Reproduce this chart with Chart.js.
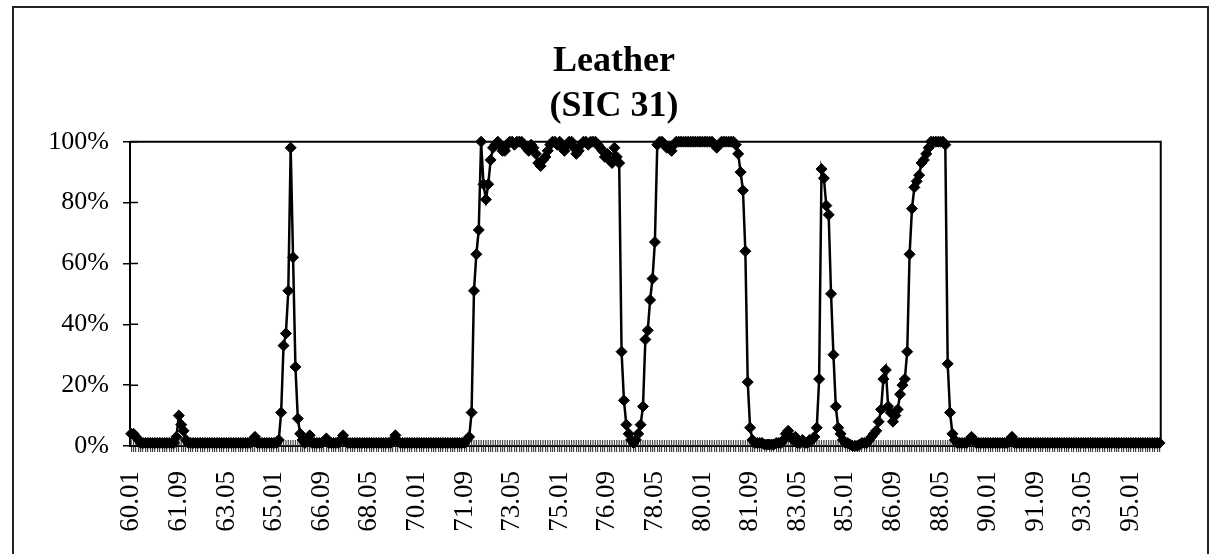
<!DOCTYPE html>
<html>
<head>
<meta charset="utf-8">
<title>Leather (SIC 31)</title>
<script src="https://cdn.jsdelivr.net/npm/chart.js@4.4.0/dist/chart.umd.min.js"></script>
<style>
  body { margin: 0; background: #fff; }
  #wrap { position: relative; width: 1211px; height: 554px; overflow: hidden; }
  #frame {
    position: absolute; left: 12px; top: 6px; width: 1197px; height: 600px;
    border: 2px solid #222; box-sizing: border-box;
  }
  #chart { position: absolute; left: 0; top: 0; }
</style>
</head>
<body>
<div id="wrap">
  <div id="frame"></div>
  <canvas id="chart" width="1211" height="554"></canvas>
</div>
<script>
// 🔹 DATA
const titleLines = ["Leather", "(SIC 31)"];

// monthly share in %, one row per year (60.01 ... 96.01)
const share = [
  4, 4, 3, 2, 1, 1, 1, 1, 1, 1, 1, 1,            // 60
  1, 1, 1, 1, 1, 1, 1, 3, 10, 7, 5, 2,           // 61
  1, 1, 1, 1, 1, 1, 1, 1, 1, 1, 1, 1,            // 62
  1, 1, 1, 1, 1, 1, 1, 1, 1, 1, 1, 1,            // 63
  1, 1, 1, 2, 3, 1, 1, 1, 1, 1, 1, 1,            // 64
  1, 1, 2, 11, 33, 37, 51, 98, 62, 26, 9, 4,     // 65
  2, 1, 2, 3.5, 1, 1, 1, 1, 1, 1.5, 2.5, 1,      // 66
  1, 1, 1, 1, 2, 3.5, 1.5, 1, 1, 1, 1, 1,        // 67
  1, 1, 1, 1, 1, 1, 1, 1, 1, 1, 1, 1,            // 68
  1, 1, 2, 3.5, 1.5, 1, 1, 1, 1, 1, 1, 1,        // 69
  1, 1, 1, 1, 1, 1, 1, 1, 1, 1, 1, 1,            // 70
  1, 1, 1, 1, 1, 1, 1, 1, 1, 2, 3, 11,           // 71
  51, 63, 71, 100, 86, 81, 86, 94, 98, 99, 100, 99,   // 72
  97, 97, 99, 100, 100, 99, 100, 100, 100, 99, 98, 97, // 73
  99, 98, 96, 93, 92, 94, 95, 97, 99, 100, 100, 99,   // 74
  100, 98, 97, 99, 100, 100, 98, 96, 97, 99, 100, 100, // 75
  99, 100, 100, 100, 99, 98, 97, 95, 96, 94, 93, 98,  // 76
  95, 93, 31, 15, 7, 4, 2, 1, 2, 4, 7, 13,       // 77
  35, 38, 48, 55, 67, 99, 100, 100, 99, 98, 98, 97,   // 78
  99, 100, 100, 100, 100, 100, 100, 100, 100, 100, 100, 100, // 79
  100, 100, 100, 100, 100, 99, 98, 99, 100, 100, 100, 100,  // 80
  100, 100, 99, 96, 90, 84, 64, 21, 6, 2, 1, 1,  // 81
  1, 1, 0.5, 0.5, 0.5, 0.5, 0.5, 1, 1, 1, 2, 4,  // 82
  5, 3, 2, 3, 1, 1, 2, 1, 1, 2, 2, 3,            // 83
  6, 22, 91, 88, 79, 76, 50, 30, 13, 6, 4, 2,    // 84
  1, 1, 0.5, 0, 0, 0, 0.5, 1, 1, 1, 2, 3,        // 85
  4, 5, 8, 12, 22, 25, 13, 11, 8, 10, 12, 17,    // 86
  20, 22, 31, 63, 78, 85, 87, 89, 93, 94, 96, 98, // 87
  100, 100, 100, 100, 100, 100, 99, 27, 11, 4, 2, 1, // 88
  1, 1, 1, 1, 2, 3, 2, 1, 1, 1, 1, 1,            // 89
  1, 1, 1, 1, 1, 1, 1, 1, 1, 2, 3, 1,            // 90
  1, 1, 1, 1, 1, 1, 1, 1, 1, 1, 1, 1,            // 91
  1, 1, 1, 1, 1, 1, 1, 1, 1, 1, 1, 1,            // 92
  1, 1, 1, 1, 1, 1, 1, 1, 1, 1, 1, 1,            // 93
  1, 1, 1, 1, 1, 1, 1, 1, 1, 1, 1, 1,            // 94
  1, 1, 1, 1, 1, 1, 1, 1, 1, 1, 1, 1,            // 95
  1                                              // 96
];

// categories: "60.01", "60.02", ...
const months = [];
for (let y = 60; months.length < share.length; y++) {
  for (let m = 1; m <= 12 && months.length < share.length; m++) {
    months.push(y + "." + String(m).padStart(2, "0"));
  }
}

// only every 20th month gets a label
const labelEvery = 20;
const yTicks = [0, 20, 40, 60, 80, 100];

const serif = "'Liberation Serif', 'Times New Roman', serif";

// 🔹 PLOT FRAME + CROSS TICKS (inside part)
const crossTicks = {
  id: "crossTicks",
  beforeDatasetsDraw(chart) {
    const { ctx, chartArea: a, scales: { x, y } } = chart;
    ctx.save();

    ctx.strokeStyle = "#444";
    ctx.lineWidth = 1.2;
    ctx.beginPath();
    x.ticks.forEach((t, i) => {
      const px = x.getPixelForTick(i);
      ctx.moveTo(px, a.bottom);
      ctx.lineTo(px, a.bottom - 6);
    });
    ctx.stroke();

    ctx.strokeStyle = "#000";
    ctx.lineWidth = 1.5;
    ctx.beginPath();
    yTicks.forEach(v => {
      const py = y.getPixelForValue(v);
      ctx.moveTo(a.left, py);
      ctx.lineTo(a.left + 8, py);
    });
    ctx.stroke();

    // top + right border of plot area
    ctx.strokeStyle = "#000";
    ctx.lineWidth = 2;
    ctx.beginPath();
    ctx.moveTo(a.left, a.top);
    ctx.lineTo(a.right, a.top);
    ctx.lineTo(a.right, a.bottom);
    ctx.stroke();

    ctx.restore();
  }
};

// 🔹 CHART
new Chart(document.getElementById("chart"), {
  type: "line",
  data: {
    labels: months,
    datasets: [{
      data: share,
      borderColor: "#000",
      borderWidth: 2.5,
      backgroundColor: "#000",
      pointStyle: "rectRot",
      pointRadius: 5.5,
      pointBorderWidth: 1,
      pointBorderColor: "#000",
      pointBackgroundColor: "#000",
      tension: 0,
      clip: false
    }]
  },
  options: {
    responsive: false,
    animation: false,
    layout: { padding: { left: 36, right: 19, top: 0, bottom: 0 } },
    plugins: {
      legend: { display: false },
      tooltip: { enabled: false },
      title: {
        display: true,
        text: titleLines,
        color: "#000",
        font: { family: serif, size: 36, weight: "bold", lineHeight: 1.25 },
        padding: { top: 39, bottom: 12.7 }
      }
    },
    scales: {
      x: {
        type: "category",
        offset: true,
        afterFit: s => { s.height = 108; },
        border: { display: true, color: "#000", width: 2 },
        grid: { drawOnChartArea: false, drawTicks: true, tickLength: 6, color: "#444", lineWidth: 1.2, offset: false },
        ticks: {
          autoSkip: false,
          maxRotation: 90,
          minRotation: 90,
          padding: 19,
          color: "#000",
          font: { family: serif, size: 27 },
          callback: (v, i) => (i % labelEvery === 0 ? months[i] : "")
        }
      },
      y: {
        min: 0,
        max: 100,
        afterFit: s => { s.width = 94; },
        afterBuildTicks: s => { s.ticks = yTicks.map(v => ({ value: v })); },
        border: { display: true, color: "#000", width: 2 },
        grid: { drawOnChartArea: false, tickLength: 7, color: "#000", lineWidth: 1.5 },
        ticks: {
          padding: 14,
          color: "#000",
          font: { family: serif, size: 26 },
          callback: v => v + "%"
        }
      },
      // empty right box so the title centres like the original
      spacer: {
        type: "linear",
        position: "right",
        display: true,
        afterFit: s => { s.width = 25; },
        border: { display: false },
        grid: { display: false, drawTicks: false },
        ticks: { display: false }
      }
    }
  },
  plugins: [crossTicks]
});
</script>
</body>
</html>
